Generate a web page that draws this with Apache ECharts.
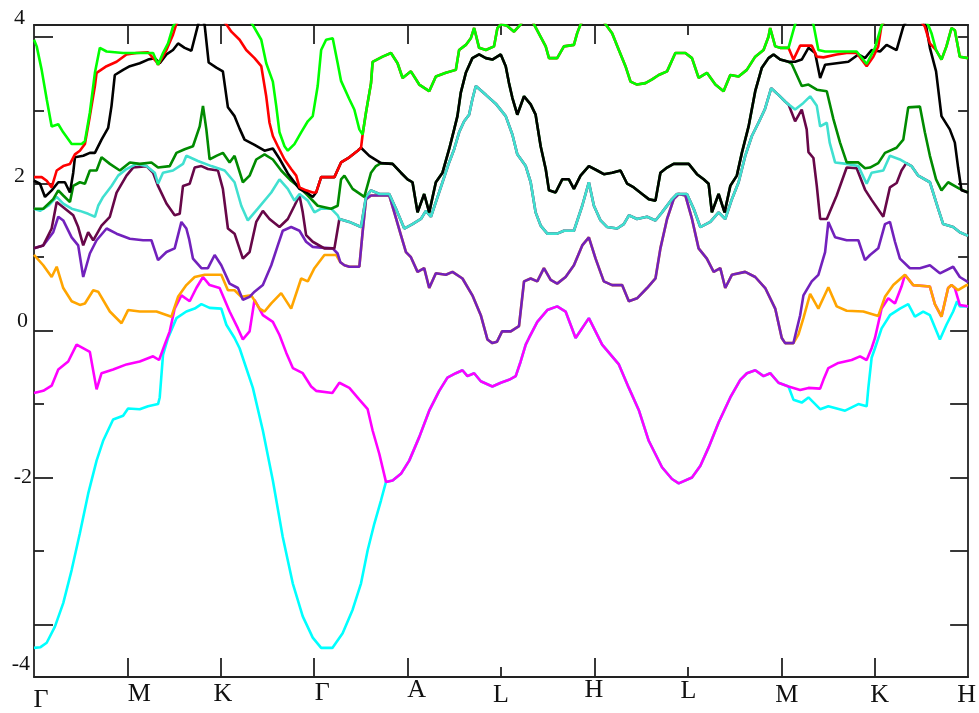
<!DOCTYPE html>
<html><head><meta charset="utf-8">
<script src="https://cdn.jsdelivr.net/npm/echarts@6/dist/echarts.min.js"></script>
<style>html,body{margin:0;padding:0;background:#fff}#c{width:979px;height:713px}</style>
</head><body><div id="c"></div>
<script>
// k-path labels (high-symmetry points at integer positions 0..10)
const kLabels = ['Γ','M','K','Γ','A','L','H','L','M','K','H'];
const yMajor = [-4,-2,0,2,4];
const yMinor = [-3,-1,1,3];
const xMajorTicks = [1,2,3,4,6,8,9];
const xMinorTicks = [5,7];

// ---- band data: [k, E (eV)] ----
const cyanA = [[0,-4.32],[0.07,-4.31],[0.136,-4.25],[0.224,-4.03],[0.313,-3.71],[0.403,-3.26],[0.491,-2.76],[0.58,-2.22],[0.67,-1.77],[0.74,-1.5],[0.847,-1.21],[0.954,-1.16],[1.007,-1.06],[1.132,-1.07],[1.221,-1.03],[1.328,-1.0],[1.346,-0.91],[1.381,-0.33],[1.435,-0.1],[1.525,0.17],[1.631,0.26],[1.72,0.3],[1.792,0.36],[1.88,0.31],[2.005,0.3],[2.059,0.08],[2.147,-0.1],[2.201,-0.24],[2.343,-0.78],[2.45,-1.36],[2.557,-2.04],[2.663,-2.81],[2.77,-3.44],[2.877,-3.89],[2.984,-4.18],[3.074,-4.32],[3.194,-4.32],[3.304,-4.12],[3.411,-3.8],[3.501,-3.44],[3.572,-2.99],[3.643,-2.63],[3.715,-2.31]];
const segCM = [[3.768,-2.06],[3.839,-2.04],[3.928,-1.95],[4.017,-1.77],[4.124,-1.45],[4.231,-1.09],[4.338,-0.82],[4.426,-0.64],[4.516,-0.58],[4.587,-0.54],[4.64,-0.62],[4.712,-0.58],[4.783,-0.69],[4.907,-0.76],[4.997,-0.71],[5.085,-0.67],[5.157,-0.62],[5.21,-0.42],[5.264,-0.19],[5.299,-0.1],[5.388,0.12],[5.495,0.28],[5.601,0.33],[5.691,0.26],[5.798,-0.1],[5.94,0.17],[6.082,-0.19],[6.261,-0.46],[6.368,-0.78],[6.474,-1.08],[6.581,-1.5],[6.723,-1.86],[6.83,-2.02],[6.902,-2.08],[7.044,-2.0],[7.134,-1.84],[7.222,-1.59],[7.329,-1.25],[7.454,-0.91],[7.561,-0.67],[7.632,-0.58],[7.721,-0.54],[7.81,-0.62],[7.881,-0.58],[7.97,-0.71],[8.077,-0.76]];
const cyanB = [[8.13,-0.94],[8.219,-0.98],[8.291,-0.91],[8.416,-1.07],[8.504,-1.03],[8.683,-1.09],[8.825,-1.0],[8.914,-1.03],[8.932,-0.78],[8.967,-0.37],[9.003,-0.24],[9.074,0.03],[9.163,0.21],[9.27,0.3],[9.359,0.36],[9.43,0.19],[9.519,0.26],[9.591,0.21],[9.698,-0.12],[9.768,0.08],[9.84,0.26],[9.882,0.4],[9.911,0.33],[10,0.33]];

const magentaA = [[0,-0.85],[0.099,-0.82],[0.189,-0.75],[0.26,-0.53],[0.366,-0.42],[0.456,-0.19],[0.598,-0.29],[0.67,-0.8],[0.723,-0.58],[0.847,-0.53],[0.99,-0.46],[1.132,-0.42],[1.275,-0.35],[1.339,-0.4],[1.4,-0.19],[1.453,-0.01],[1.506,0.3],[1.578,0.48],[1.667,0.4],[1.738,0.58],[1.809,0.73],[1.88,0.62],[1.987,0.58],[2.094,0.26],[2.183,0.03],[2.236,-0.12],[2.308,-0.01],[2.361,0.42],[2.45,0.21],[2.557,0.12],[2.628,-0.06],[2.7,-0.3],[2.771,-0.51],[2.877,-0.58],[2.967,-0.76],[3.02,-0.82],[3.194,-0.85],[3.269,-0.71],[3.376,-0.78],[3.483,-0.94],[3.572,-1.07],[3.625,-1.36],[3.697,-1.68]];
const magentaB = [[8.202,-0.81],[8.291,-0.78],[8.416,-0.79],[8.451,-0.67],[8.504,-0.51],[8.611,-0.44],[8.753,-0.4],[8.843,-0.35],[8.914,-0.4],[8.967,-0.24],[9.003,-0.1],[9.074,0.3],[9.145,0.44],[9.217,0.37],[9.287,0.6]];
const segMO = [[9.324,0.76],[9.412,0.62],[9.591,0.6],[9.644,0.36],[9.715,0.19],[9.786,0.58],[9.822,0.62]];
const magentaC = [[9.858,0.58],[9.911,0.35],[10,0.33]];

const orangeA = [[0,1.03],[0.099,0.89],[0.189,0.73],[0.243,0.87],[0.313,0.58],[0.403,0.4],[0.491,0.35],[0.545,0.37],[0.634,0.55],[0.687,0.53],[0.812,0.26],[0.937,0.1],[1.007,0.28],[1.132,0.26],[1.311,0.26],[1.471,0.19],[1.542,0.46],[1.631,0.62],[1.72,0.73],[1.827,0.76],[2.005,0.76],[2.076,0.55],[2.147,0.55],[2.219,0.46],[2.326,0.48],[2.415,0.3],[2.468,0.26],[2.54,0.37],[2.646,0.51],[2.753,0.3],[2.86,0.71],[2.931,0.67],[3.002,0.85],[3.109,1.03],[3.234,1.03]];
const segIO = [[3.28,0.93],[3.323,0.89],[3.376,0.87],[3.483,0.87],[3.518,1.34],[3.554,1.79],[3.608,1.84],[3.803,1.84],[3.857,1.61],[3.928,1.3],[3.982,1.07],[4.035,1.0],[4.106,0.8],[4.177,0.85],[4.231,0.58],[4.302,0.78],[4.409,0.76],[4.48,0.8],[4.587,0.71],[4.693,0.48],[4.783,0.21],[4.854,-0.12],[4.907,-0.17],[4.957,-0.15],[5.011,-0.01],[5.104,-0.01],[5.192,0.06],[5.246,0.67],[5.317,0.71],[5.388,0.67],[5.459,0.85],[5.531,0.69],[5.601,0.64],[5.691,0.73],[5.78,0.89],[5.869,1.16],[5.94,1.27],[6.012,0.98],[6.1,0.67],[6.189,0.62],[6.296,0.62],[6.368,0.4],[6.456,0.44],[6.563,0.58],[6.653,0.71],[6.706,1.12],[6.777,1.52],[6.848,1.79],[6.902,1.86],[6.973,1.84],[7.044,1.52],[7.115,1.12],[7.203,0.98],[7.276,0.8],[7.347,0.85],[7.4,0.58],[7.471,0.76],[7.614,0.8],[7.721,0.73],[7.828,0.58],[7.935,0.3],[8.005,-0.1],[8.041,-0.17],[8.13,-0.17]];
const orangeB = [[8.184,-0.05],[8.237,0.17],[8.309,0.5],[8.397,0.3],[8.504,0.59],[8.593,0.33],[8.7,0.27],[8.878,0.26],[9.038,0.2],[9.11,0.46],[9.199,0.62]];
const orangeC = [[9.893,0.55],[9.982,0.62],[10,0.62]];

const indigoA = [[0,1.12],[0.099,1.16],[0.206,1.34],[0.26,1.55],[0.313,1.5],[0.403,1.27],[0.473,1.16],[0.527,0.73],[0.598,1.05],[0.67,1.23],[0.777,1.39],[0.884,1.32],[1.026,1.25],[1.168,1.23],[1.257,1.23],[1.328,0.96],[1.418,1.07],[1.506,1.12],[1.578,1.48],[1.631,1.39],[1.66,1.25],[1.702,0.98],[1.792,0.85],[1.862,0.85],[1.934,1.03],[2.005,0.89],[2.094,0.64],[2.183,0.58],[2.236,0.42],[2.308,0.46],[2.361,0.53],[2.45,0.62],[2.54,0.89],[2.61,1.16],[2.663,1.36],[2.753,1.41],[2.842,1.36],[2.913,1.21],[2.984,1.14],[3.074,1.13],[3.198,1.12],[3.25,1.05]];
const indigoB = [[8.202,0.21],[8.237,0.48],[8.326,0.67],[8.397,0.76],[8.469,1.07],[8.504,1.48],[8.576,1.27],[8.7,1.23],[8.825,1.23],[8.896,0.96],[8.95,1.03],[9.038,1.12],[9.11,1.45],[9.163,1.48],[9.217,1.21],[9.27,0.98],[9.377,0.85],[9.484,0.85],[9.591,0.89],[9.698,0.78],[9.84,0.87],[9.911,0.73],[10,0.66]];

const maroonA = [[0,1.12],[0.099,1.16],[0.189,1.39],[0.243,1.75],[0.313,1.68],[0.42,1.57],[0.473,1.41],[0.527,1.16],[0.58,1.34],[0.634,1.23],[0.723,1.43],[0.812,1.55],[0.884,1.88],[0.99,2.11],[1.061,2.22],[1.204,2.24],[1.275,2.15],[1.328,1.97],[1.418,1.73],[1.506,1.57],[1.56,1.59],[1.595,1.97],[1.667,2.0],[1.72,2.22],[1.792,2.24],[1.862,2.2],[1.969,2.18],[2.022,1.93],[2.076,1.39],[2.147,1.32],[2.236,0.98],[2.308,1.07],[2.379,1.48],[2.45,1.63],[2.521,1.52],[2.628,1.41],[2.717,1.52],[2.788,1.7],[2.842,1.84],[2.877,1.61],[2.913,1.3],[2.984,1.21],[3.109,1.12],[3.216,1.12]];
const segTM = [[3.269,1.52],[3.376,1.48],[3.501,1.41],[3.554,1.82],[3.608,1.91],[3.697,1.86],[3.803,1.86],[3.875,1.66],[3.964,1.39],[4.052,1.45],[4.142,1.52],[4.195,1.63],[4.249,1.55],[4.302,1.75],[4.373,2.02],[4.444,2.29],[4.498,2.47],[4.551,2.7],[4.605,2.85],[4.658,2.94],[4.693,3.15],[4.73,3.33],[4.837,3.21],[4.943,3.09],[5.05,2.92],[5.121,2.67],[5.174,2.4],[5.264,2.24],[5.317,2.02],[5.37,1.61],[5.424,1.43],[5.495,1.32],[5.601,1.32],[5.673,1.36],[5.78,1.36],[5.869,1.7],[5.94,2.02],[5.994,1.7],[6.065,1.5],[6.136,1.41],[6.243,1.39],[6.314,1.45],[6.368,1.57],[6.456,1.52],[6.563,1.55],[6.653,1.5],[6.723,1.61],[6.83,1.79],[6.884,1.86],[6.99,1.86],[7.062,1.66],[7.133,1.41],[7.24,1.48],[7.329,1.61],[7.4,1.52],[7.471,1.79],[7.543,2.02],[7.614,2.38],[7.685,2.65],[7.756,2.83],[7.823,3.01],[7.892,3.3],[7.97,3.21],[8.041,3.12],[8.077,3.08]];
const maroonB = [[8.148,2.85],[8.219,3.01],[8.272,2.74],[8.291,2.43],[8.344,2.35],[8.38,1.97],[8.416,1.52],[8.487,1.52],[8.593,1.84],[8.7,2.22],[8.807,2.21],[8.896,1.92],[8.967,1.78],[9.092,1.55],[9.163,1.95],[9.235,2.01],[9.287,2.18]];
const segTM2 = [[9.338,2.28],[9.394,2.24],[9.466,2.11],[9.591,2.02],[9.679,1.66],[9.733,1.45],[9.84,1.41],[9.911,1.34],[10,1.29]];

const turquoiseA = [[0,1.66],[0.064,1.63],[0.153,1.7],[0.243,1.82],[0.313,1.73],[0.403,1.66],[0.491,1.63],[0.58,1.59],[0.652,1.55],[0.687,1.7],[0.74,1.82],[0.83,1.97],[0.901,2.11],[0.99,2.2],[1.097,2.27],[1.204,2.24],[1.293,2.15],[1.328,2.0],[1.381,2.15],[1.488,2.18],[1.595,2.27],[1.631,2.38],[1.755,2.31],[1.899,2.24],[2.041,2.18],[2.147,2.02],[2.219,1.7],[2.289,1.5],[2.396,1.66],[2.54,1.88],[2.628,2.06],[2.717,1.93],[2.788,1.77],[2.842,1.86],[2.931,1.77],[3.002,1.61],[3.074,1.66],[3.181,1.66],[3.251,1.57]];
const turquoiseB = [[8.148,3.01],[8.237,3.1],[8.309,3.19],[8.38,3.06],[8.416,2.78],[8.487,2.83],[8.518,2.56],[8.576,2.29],[8.7,2.27],[8.825,2.24],[8.914,2.0],[8.967,2.15],[9.092,2.18],[9.163,2.38],[9.27,2.33]];

const green4A = [[0,1.66],[0.099,1.66],[0.206,1.79],[0.26,1.91],[0.313,1.84],[0.385,1.75],[0.42,1.97],[0.491,2.02],[0.545,2.0],[0.598,2.18],[0.67,2.18],[0.723,2.36],[0.812,2.27],[0.919,2.18],[1.026,2.29],[1.132,2.27],[1.257,2.29],[1.328,2.22],[1.453,2.24],[1.525,2.42],[1.613,2.47],[1.702,2.51],[1.774,2.78],[1.809,3.06],[1.845,2.74],[1.88,2.33],[1.952,2.38],[2.022,2.42],[2.094,2.29],[2.147,2.38],[2.236,2.02],[2.308,2.11],[2.379,2.33],[2.468,2.4],[2.557,2.33],[2.646,2.18],[2.753,2.04],[2.842,1.95],[2.931,1.84],[3.037,1.7],[3.181,1.66],[3.251,1.7],[3.287,2.06],[3.323,2.11],[3.411,1.93],[3.536,1.82],[3.608,2.15],[3.661,2.24]];
const segGB = [[3.715,2.28],[3.839,2.27],[3.928,2.15],[3.999,2.06],[4.052,2.02],[4.106,1.61],[4.177,1.86],[4.231,1.61],[4.302,2.02],[4.373,2.15],[4.444,2.47],[4.498,2.74],[4.533,2.92],[4.569,3.24],[4.623,3.51],[4.693,3.71],[4.765,3.76],[4.837,3.71],[4.907,3.69],[4.997,3.76],[5.05,3.6],[5.085,3.37],[5.121,3.17],[5.174,2.94],[5.246,3.19],[5.317,3.08],[5.37,2.94],[5.424,2.51],[5.478,2.2],[5.513,1.91],[5.584,1.88],[5.655,2.06],[5.726,2.06],[5.78,1.93],[5.851,2.11],[5.94,2.24],[6.029,2.18],[6.1,2.13],[6.189,2.15],[6.279,2.18],[6.35,2.0],[6.421,1.95],[6.51,1.86],[6.581,1.79],[6.653,1.77],[6.706,2.15],[6.777,2.22],[6.848,2.27],[7.009,2.27],[7.097,2.13],[7.169,2.06],[7.222,2.0],[7.257,1.61],[7.329,1.86],[7.393,1.61],[7.454,1.97],[7.524,2.11],[7.578,2.42],[7.65,2.78],[7.721,3.26],[7.792,3.58],[7.863,3.71],[7.917,3.76],[7.988,3.69],[8.077,3.66]];
const green4B = [[8.112,3.63],[8.219,3.33],[8.291,3.35],[8.38,3.28],[8.487,3.26],[8.558,2.88],[8.629,2.56],[8.7,2.29],[8.825,2.29],[8.896,2.21],[8.95,2.22],[9.038,2.28],[9.11,2.42],[9.234,2.49],[9.306,2.6],[9.359,3.04],[9.484,3.05],[9.537,2.7],[9.591,2.38],[9.657,2.06],[9.715,1.91],[9.786,2.02],[9.911,1.93],[10,1.88]];

const blackA = [[0,2.04],[0.064,2.0],[0.118,1.82],[0.189,1.91],[0.26,2.02],[0.331,2.02],[0.385,1.88],[0.42,2.15],[0.438,2.36],[0.527,2.38],[0.598,2.42],[0.652,2.42],[0.723,2.6],[0.794,2.76],[0.83,3.06],[0.865,3.48],[0.954,3.55],[1.026,3.6],[1.132,3.64],[1.221,3.69],[1.293,3.71],[1.346,3.64],[1.418,3.76],[1.488,3.82],[1.542,3.91],[1.613,3.85],[1.685,3.81],[1.755,4.16],[1.784,4.3],[1.827,4.16],[1.87,3.65],[1.952,3.58],[2.022,3.53],[2.076,3.04],[2.147,2.92],[2.201,2.75],[2.254,2.6],[2.361,2.53],[2.468,2.45],[2.557,2.48],[2.628,2.34],[2.717,2.14],[2.842,1.93],[2.931,1.87],[2.984,1.82]];
const segRB = [[3.02,1.88],[3.074,2.09],[3.216,2.09],[3.287,2.29],[3.376,2.36],[3.465,2.45],[3.501,2.49]];
const blackMid = [[3.59,2.38]];
const blackB = [[8.148,3.66],[8.219,3.69],[8.291,3.85],[8.309,3.87],[8.362,3.78],[8.416,3.44],[8.469,3.62],[8.593,3.64],[8.718,3.66],[8.825,3.76],[8.896,3.71],[8.967,3.82],[9.057,3.8],[9.127,3.89],[9.234,3.82],[9.306,4.14],[9.423,4.4],[9.551,4.14],[9.591,3.85],[9.657,3.53],[9.715,2.92],[9.804,2.74],[9.858,2.56],[9.893,2.22],[9.929,1.91],[10,1.88]];

const redA = [[0,2.09],[0.082,2.09],[0.136,2.04],[0.189,1.95],[0.243,2.18],[0.313,2.24],[0.385,2.27],[0.438,2.4],[0.491,2.45],[0.545,2.54],[0.598,2.92],[0.652,3.33],[0.67,3.51],[0.777,3.6],[0.884,3.66],[0.99,3.76],[1.097,3.78],[1.221,3.79],[1.311,3.66],[1.328,3.62],[1.418,3.82],[1.488,4.03],[1.525,4.18],[1.774,4.55],[2.059,4.17],[2.113,4.07],[2.201,3.96],[2.272,3.82],[2.361,3.71],[2.433,3.6],[2.486,3.19],[2.521,2.83],[2.557,2.65],[2.61,2.51],[2.682,2.33],[2.753,2.2],[2.807,2.11],[2.842,1.95],[2.913,1.91],[2.984,1.88]];
const segGR = [[3.518,2.67],[3.554,2.97],[3.608,3.37],[3.625,3.66],[3.732,3.73],[3.822,3.78],[3.892,3.64],[3.946,3.44],[4.035,3.53],[4.124,3.35],[4.231,3.26],[4.302,3.46],[4.409,3.51],[4.516,3.55],[4.551,3.82],[4.623,3.89],[4.676,3.98],[4.712,4.12],[4.765,3.85],[4.837,3.82],[4.925,3.87],[4.961,4.12],[4.997,4.17],[5.064,4.15],[5.139,4.07],[5.21,4.17],[5.278,4.35],[5.353,4.17],[5.424,4.0],[5.478,3.87],[5.513,3.71],[5.601,3.71],[5.673,3.87],[5.78,3.89],[5.815,4.05],[5.851,4.17],[5.983,4.45],[6.119,4.17],[6.189,4.05],[6.261,3.82],[6.332,3.6],[6.386,3.39],[6.456,3.35],[6.546,3.37],[6.617,3.42],[6.688,3.48],[6.777,3.53],[6.866,3.78],[6.973,3.78],[7.044,3.71],[7.115,3.44],[7.204,3.51],[7.294,3.35],[7.382,3.26],[7.454,3.48],[7.543,3.46],[7.631,3.55],[7.721,3.73],[7.81,3.82],[7.863,4.0],[7.881,4.12],[7.935,3.87],[7.988,3.85],[8.077,3.85]];
const redB = [[8.13,3.69],[8.202,3.88],[8.326,3.88],[8.38,3.73],[8.451,3.72],[8.593,3.76],[8.7,3.78],[8.807,3.78],[8.914,3.6],[8.985,3.73],[9.038,3.87],[9.074,4.16],[9.306,4.5],[9.537,4.14],[9.591,3.91]];
const segGR2 = [[9.657,3.82],[9.715,3.69],[9.768,3.87],[9.822,4.12],[9.858,4.09],[9.911,3.73],[10,3.71]];

const greenA = [[0,3.96],[0.029,3.87],[0.082,3.55],[0.136,3.15],[0.189,2.78],[0.26,2.81],[0.313,2.7],[0.403,2.54],[0.51,2.54],[0.545,2.58],[0.598,2.97],[0.652,3.51],[0.705,3.85],[0.777,3.8],[0.954,3.78],[1.275,3.78],[1.328,3.62],[1.381,3.78],[1.435,3.91],[1.488,4.14],[1.667,4.5],[1.934,4.6],[2.201,4.4],[2.343,4.16],[2.433,3.96],[2.486,3.64],[2.557,3.39],[2.593,3.06],[2.628,2.7],[2.682,2.51],[2.717,2.45],[2.788,2.54],[2.86,2.7],[2.931,2.85],[2.984,2.92],[3.037,3.33],[3.074,3.82],[3.127,3.96],[3.198,3.98],[3.251,3.64],[3.287,3.4],[3.376,3.15],[3.429,3.01],[3.483,2.74]];
const greenB = [[8.13,4.09],[8.15,4.18],[8.248,4.4],[8.344,4.17],[8.397,3.82],[8.469,3.8],[8.807,3.8],[8.914,3.63],[9.003,3.85],[9.074,4.16],[9.306,4.6],[9.573,4.16],[9.608,4.05]];

// Degenerate stretches share the same read points.
const bands = [
  { color: '#00FFFF', data: [...cyanA, ...segCM, ...cyanB] },
  { color: '#FF00FF', data: [...magentaA, ...segCM, ...magentaB, ...segMO, ...magentaC] },
  { color: '#FFA500', data: [...orangeA, ...segIO, ...orangeB, ...segMO, ...orangeC] },
  { color: '#7221BC', data: [...indigoA, ...segIO, ...indigoB] },
  { color: '#670748', data: [...maroonA, ...segTM, ...maroonB, ...segTM2] },
  { color: '#40E0D0', data: [...turquoiseA, ...segTM, ...turquoiseB, ...segTM2] },
  { color: '#008B00', data: [...green4A, ...segGB, ...green4B] },
  { color: '#000000', data: [...blackA, ...segRB, ...blackMid, ...segGB, ...blackB] },
  { color: '#FF0000', data: [...redA, ...segRB, ...segGR, ...redB, ...segGR2] },
  { color: '#00FF00', data: [...greenA, ...segGR, ...greenB, ...segGR2] }
];

const FONT = 'Liberation Serif';
const AX = '#222';
const yMin = -4.716, yMax = 4.161;

// per-label nudges copied from the reference's label placement
const xPad = [[10,0,0,14],[4,0,0,24],[4,0,0,4],[3,0,0,16],[0,0,0,18],[5,0,0,0],[0,1,0,0],[1.5,0,0,1],[5,0,0,11],[5,0,0,10],[5,3,0,0]];
const xRich = {};
xPad.forEach((p, i) => { xRich['x' + i] = { padding: p, fontFamily: FONT, fontSize: 26, color: '#111' }; });
const yPad = { p4: [0,7,38,0], p2: [0,7,16,0], p0: [0,4,19,0], n2: [0,0,0,0], n4: [80,2,0,0] };
const yRich = {};
Object.keys(yPad).forEach(k => { yRich[k] = { padding: yPad[k], fontFamily: FONT, fontSize: 22, color: '#111' }; });

function xAx(pos, ticks, len, showLine, labels) {
  return {
    type: 'value', position: pos, min: 0, max: 10,
    axisLine: { show: showLine, onZero: false, lineStyle: { color: AX, width: 1.8 } },
    splitLine: { show: false },
    axisTick: { show: true, inside: true, length: len, customValues: ticks, lineStyle: { color: AX, width: 1.8 } },
    axisLabel: labels ? {
      show: true, customValues: [0,1,2,3,4,5,6,7,8,9,10], margin: 0,
      formatter: v => { const i = Math.round(v); return '{x' + i + '|' + kLabels[i] + '}'; },
      rich: xRich
    } : { show: false }
  };
}
function yAx(pos, ticks, len, showLine, labels) {
  return {
    type: 'value', position: pos, min: yMin, max: yMax,
    axisLine: { show: showLine, onZero: false, lineStyle: { color: AX, width: 1.8 } },
    splitLine: { show: false },
    axisTick: { show: true, inside: true, length: len, customValues: ticks, lineStyle: { color: AX, width: 1.8 } },
    axisLabel: labels ? {
      show: true, customValues: yMajor, margin: 2,
      formatter: v => { const r = Math.round(v); const key = r < 0 ? 'n' + (-r) : 'p' + r; return '{' + key + '|' + r + '}'; },
      rich: yRich
    } : { show: false }
  };
}

const chart = echarts.init(document.getElementById('c'), null, { renderer: 'canvas' });
chart.setOption({
  animation: false,
  backgroundColor: '#ffffff',
  grid: { left: 34, right: 9, top: 25, bottom: 32 },
  xAxis: [
    xAx('bottom', xMajorTicks, 19, true, true),
    xAx('bottom', xMinorTicks, 10, false, false),
    xAx('top', xMajorTicks, 19, true, false),
    xAx('top', xMinorTicks, 10, false, false)
  ],
  yAxis: [
    yAx('left', yMajor, 19, true, true),
    yAx('left', yMinor, 10, false, false),
    yAx('right', [4,3,2,1], 10, true, false),
    yAx('right', [0,-1,-2,-3,-4], 18, false, false)
  ],
  series: bands.map(b => ({
    type: 'line', xAxisIndex: 0, yAxisIndex: 0, data: b.data,
    showSymbol: false, symbol: 'none', smooth: false, clip: true,
    lineStyle: { color: b.color, width: 2.6 }, itemStyle: { color: b.color },
    emphasis: { disabled: true }
  }))
});
</script>
</body></html>
